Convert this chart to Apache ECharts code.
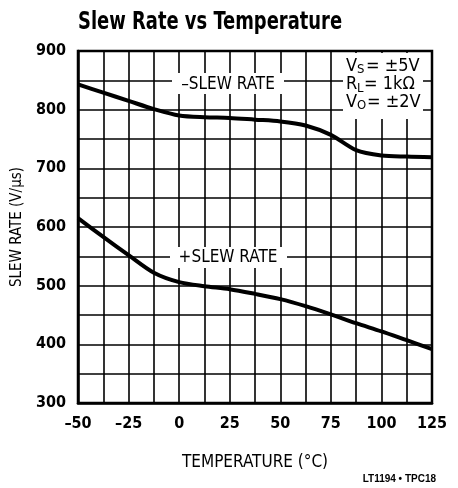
<!DOCTYPE html>
<html>
<head>
<meta charset="utf-8">
<script src="https://cdn.jsdelivr.net/npm/echarts@6/dist/echarts.min.js"></script>
<style>html,body{margin:0;padding:0;background:#fff;}#c{width:458px;height:488px;}</style>
</head>
<body>
<div id="c"></div>
<script>
var temperatures = [-50, -37.5, -25, -12.5, 0, 12.5, 25, 37.5, 50, 62.5, 75, 87.5, 100, 112.5, 125];
var minusSlew = [843, 829, 815, 801, 790, 787, 786, 783, 780, 773, 757, 731, 722, 720, 719];
var plusSlew  = [615, 583, 552, 522, 506, 499, 494, 486, 477, 465, 451, 436, 422, 407, 392];
var xTickLabels = [-50, -25, 0, 25, 50, 75, 100, 125];
var yTickLabels = [300, 400, 500, 600, 700, 800, 900];

var NARROW = "'Liberation Sans Narrow', 'DejaVu Sans Condensed', 'Arial Narrow', sans-serif";
var chart = echarts.init(document.getElementById('c'), null, {renderer: 'canvas'});

function pairs(xs, ys) { return xs.map(function (x, i) { return [x, ys[i]]; }); }

chart.setOption({
  animation: false,
  backgroundColor: '#fff',
  grid: {left: 78, right: 26, top: 51, bottom: 85, show: true, borderColor: '#000', borderWidth: 2.5, backgroundColor: 'transparent'},
  xAxis: {
    type: 'value', min: -50, max: 125, interval: 12.5,
    name: 'TEMPERATURE (°C)', nameLocation: 'middle', nameGap: 51,
    nameTextStyle: {fontFamily: NARROW, fontSize: 17, color: '#000'},
    axisLine: {show: true, onZero: false, lineStyle: {color: '#000', width: 2.5}},
    axisTick: {show: false},
    splitLine: {show: true, lineStyle: {color: '#000', width: 1.6}},
    axisLabel: {
      margin: 13, color: '#000', fontFamily: NARROW, fontWeight: 'bold', fontSize: 16,
      formatter: function (v) { return xTickLabels.indexOf(v) >= 0 ? String(v).replace('-', '\u2013') : ''; }
    }
  },
  yAxis: {
    type: 'value', min: 300, max: 900, interval: 50,
    name: 'SLEW RATE (V/\u03bcs)', nameLocation: 'middle', nameGap: 50, nameRotate: 90,
    nameTextStyle: {fontFamily: NARROW, fontSize: 15, color: '#000'},
    axisLine: {show: true, onZero: false, lineStyle: {color: '#000', width: 2.5}},
    axisTick: {show: false},
    splitLine: {show: true, lineStyle: {color: '#000', width: 1.6}},
    axisLabel: {
      margin: 12, color: '#000', fontFamily: NARROW, fontWeight: 'bold', fontSize: 16,
      formatter: function (v) { return yTickLabels.indexOf(v) >= 0 ? String(v) : ''; }
    }
  },
  series: [
    {type: 'line', data: pairs(temperatures, minusSlew), smooth: 0.3, symbol: 'none', lineStyle: {color: '#000', width: 4}, z: 5},
    {type: 'line', data: pairs(temperatures, plusSlew), smooth: 0.3, symbol: 'none', lineStyle: {color: '#000', width: 4}, z: 5}
  ],
  graphic: [
    {type: 'text', z: 101, x: 78, y: 23, scaleX: 0.83, style: {text: 'Slew Rate vs Temperature', fontFamily: NARROW, fontWeight: 'bold', fontSize: 24, fill: '#000', verticalAlign: 'middle'}},
    {type: 'rect', z: 100, shape: {x: 172, y: 73, width: 112, height: 21}, style: {fill: '#fff'}},
    {type: 'text', z: 101, x: 228, y: 85, style: {text: '\u2013SLEW RATE', fontFamily: NARROW, fontSize: 17, fill: '#000', align: 'center', verticalAlign: 'middle'}},
    {type: 'rect', z: 100, shape: {x: 170, y: 247, width: 117, height: 21}, style: {fill: '#fff'}},
    {type: 'text', z: 101, x: 228, y: 258, style: {text: '+SLEW RATE', fontFamily: NARROW, fontSize: 17, fill: '#000', align: 'center', verticalAlign: 'middle'}},
    {type: 'rect', z: 100, shape: {x: 343, y: 53, width: 80, height: 66}, style: {fill: '#fff'}},
    {type: 'text', z: 101, x: 346, y: 66, style: {text: 'V', fontFamily: NARROW, fontSize: 18, fill: '#000', verticalAlign: 'middle'}},
    {type: 'text', z: 101, x: 357, y: 70, style: {text: 'S', fontFamily: NARROW, fontSize: 13, fill: '#000', verticalAlign: 'middle'}},
    {type: 'text', z: 101, x: 366, y: 66, style: {text: '= \u00b15V', fontFamily: NARROW, fontSize: 18, fill: '#000', verticalAlign: 'middle'}},
    {type: 'text', z: 101, x: 346, y: 84, style: {text: 'R', fontFamily: NARROW, fontSize: 18, fill: '#000', verticalAlign: 'middle'}},
    {type: 'text', z: 101, x: 357, y: 89, style: {text: 'L', fontFamily: NARROW, fontSize: 13, fill: '#000', verticalAlign: 'middle'}},
    {type: 'text', z: 101, x: 364, y: 84, style: {text: '= 1k\u03a9', fontFamily: NARROW, fontSize: 18, fill: '#000', verticalAlign: 'middle'}},
    {type: 'text', z: 101, x: 346, y: 102, style: {text: 'V', fontFamily: NARROW, fontSize: 18, fill: '#000', verticalAlign: 'middle'}},
    {type: 'text', z: 101, x: 357, y: 106, style: {text: 'O', fontFamily: NARROW, fontSize: 13, fill: '#000', verticalAlign: 'middle'}},
    {type: 'text', z: 101, x: 367, y: 102, style: {text: '= \u00b12V', fontFamily: NARROW, fontSize: 18, fill: '#000', verticalAlign: 'middle'}},
    {type: 'text', z: 101, x: 436, y: 479, style: {text: 'LT1194 \u2022 TPC18', fontFamily: "'Liberation Sans', Arial, sans-serif", fontWeight: 'bold', fontSize: 10, fill: '#000', align: 'right', verticalAlign: 'middle'}}
  ]
});
</script>
</body>
</html>
